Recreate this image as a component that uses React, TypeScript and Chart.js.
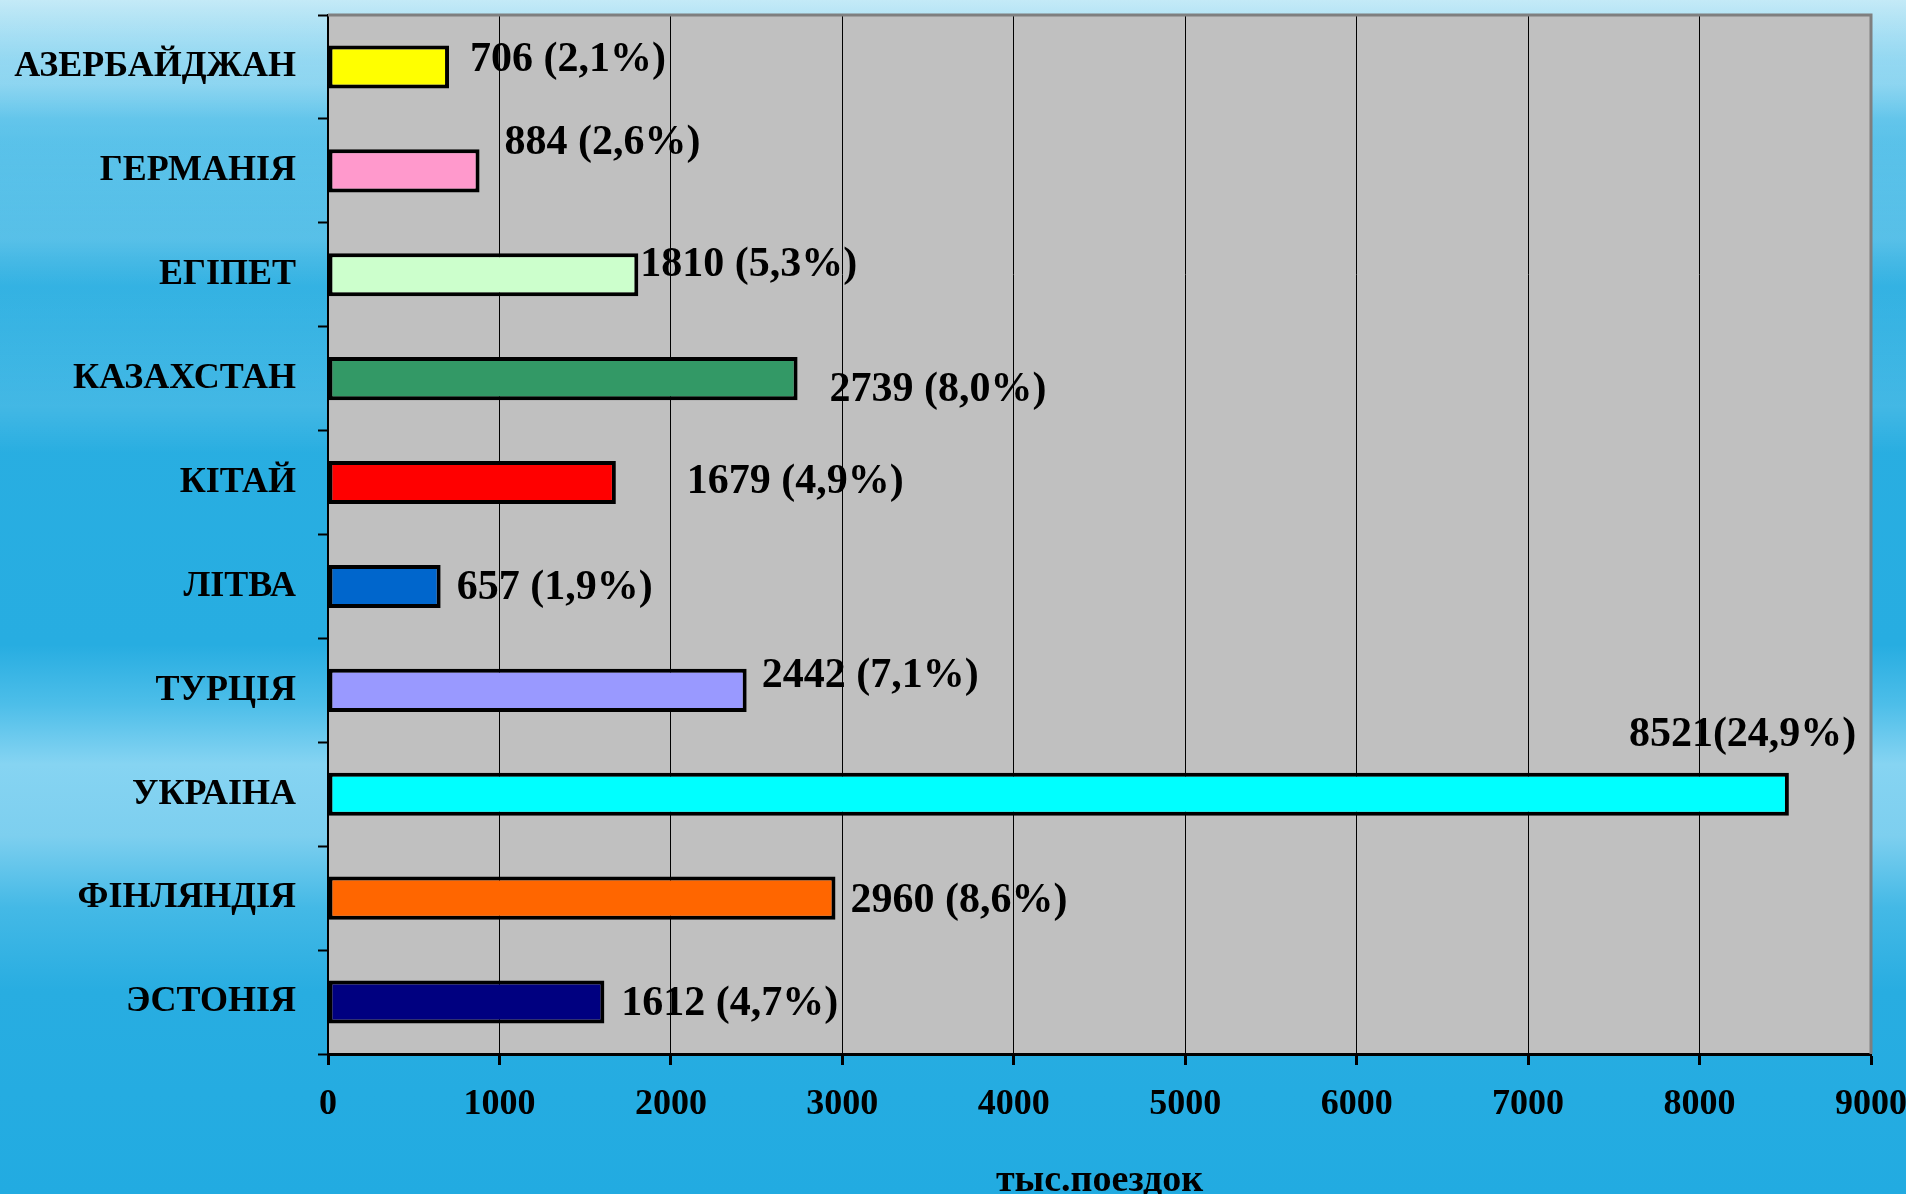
import React, { useEffect, useRef } from "react";
import { Chart, registerables } from "chart.js";

Chart.register(...registerables);

// ---- data ----
const categories = [
  "АЗЕРБАЙДЖАН",
  "ГЕРМАНІЯ",
  "ЕГІПЕТ",
  "КАЗАХСТАН",
  "КІТАЙ",
  "ЛІТВА",
  "ТУРЦІЯ",
  "УКРАІНА",
  "ФІНЛЯНДІЯ",
  "ЭСТОНІЯ",
];
const trips = [706, 884, 1810, 2739, 1679, 657, 2442, 8521, 2960, 1612];
const shares = ["2,1", "2,6", "5,3", "8,0", "4,9", "1,9", "7,1", "24,9", "8,6", "4,7"];
const barColors = [
  "#FFFF00",
  "#FF99CC",
  "#CCFFCC",
  "#339966",
  "#FF0000",
  "#0066CC",
  "#9999FF",
  "#00FFFF",
  "#FF6600",
  "#000080",
];
const xMin = 0;
const xMax = 9000;
const xStep = 1000;
const axisTitle = "тыс.поездок";
const labelSeparators = [" ", " ", " ", " ", " ", " ", " ", "", " ", " "];

// ---- style (label placement relative to bar end / bar centre, px) ----
const labelOffsets: [number, number][] = [
  [21, -7],
  [25, -28],
  [2, -10],
  [32, 12],
  [71, 0],
  [16, 2],
  [15, -14],
  [-160, -59],
  [15, 3],
  [17, 2],
];

const FONT = '"Liberation Serif", "Times New Roman", serif';
const W = 1906;
const H = 1194;

const plotBgPlugin = {
  id: "plotBg",
  beforeDraw(chart: any) {
    const { ctx, chartArea } = chart;
    ctx.save();
    ctx.fillStyle = "#C0C0C0";
    ctx.fillRect(chartArea.left, chartArea.top, chartArea.right - chartArea.left, chartArea.bottom - chartArea.top);
    ctx.restore();
  },
  afterDraw(chart: any) {
    const { ctx, chartArea } = chart;
    ctx.save();
    ctx.strokeStyle = "#7F7F7F";
    ctx.lineWidth = 3;
    ctx.beginPath();
    ctx.moveTo(chartArea.left, chartArea.top);
    ctx.lineTo(chartArea.right, chartArea.top);
    ctx.lineTo(chartArea.right, chartArea.bottom);
    ctx.stroke();
    ctx.restore();
  },
};

const dataLabelPlugin = {
  id: "dataLabels",
  afterDatasetsDraw(chart: any) {
    const { ctx } = chart;
    const meta = chart.getDatasetMeta(0);
    ctx.save();
    ctx.font = `bold 42px ${FONT}`;
    ctx.fillStyle = "#000";
    ctx.textAlign = "left";
    ctx.textBaseline = "middle";
    meta.data.forEach((bar: any, i: number) => {
      const [dx, dy] = labelOffsets[i];
      const text = `${trips[i]}${labelSeparators[i]}(${shares[i]}%)`;
      ctx.fillText(text, bar.x + dx, bar.y + dy);
    });
    ctx.restore();
  },
};

const axisTitlePlugin = {
  id: "axisTitle",
  afterDraw(chart: any) {
    const { ctx, chartArea } = chart;
    ctx.save();
    ctx.font = `bold 38px ${FONT}`;
    ctx.fillStyle = "#000";
    ctx.textAlign = "center";
    ctx.textBaseline = "alphabetic";
    ctx.fillText(axisTitle, (chartArea.left + chartArea.right) / 2, 1191);
    ctx.restore();
  },
};

export default function App() {
  const canvasRef = useRef<HTMLCanvasElement | null>(null);

  useEffect(() => {
    document.body.style.margin = "0";
    const canvas = canvasRef.current;
    if (!canvas) return;
    const chart = new Chart(canvas, {
      type: "bar",
      data: {
        labels: categories,
        datasets: [
          {
            data: trips,
            backgroundColor: barColors,
            borderColor: "#000",
            borderWidth: 4,
            borderSkipped: false,
            barPercentage: 0.415,
            categoryPercentage: 1,
          },
        ],
      },
      options: {
        indexAxis: "y",
        animation: false,
        responsive: false,
        devicePixelRatio: 1,
        layout: { padding: { left: 0, top: 15, right: 35, bottom: 0 } },
        plugins: {
          legend: { display: false },
          tooltip: { enabled: false },
          title: { display: false },
        },
        scales: {
          x: {
            type: "linear",
            min: xMin,
            max: xMax,
            afterFit(scale: any) {
              scale.height = H - 1054;
              scale.paddingLeft = 0;
              scale.paddingRight = 0;
            },
            ticks: {
              stepSize: xStep,
              color: "#000",
              padding: 18,
              font: { family: FONT, size: 36, weight: "bold" },
              callback: (v: any) => String(v),
            },
            grid: {
              color: "#000",
              lineWidth: 1,
              tickColor: "#000",
              tickWidth: 3,
              tickLength: 11,
            },
            border: { color: "#000", width: 3 },
          },
          y: {
            type: "category",
            afterFit(scale: any) {
              scale.width = 328;
              scale.paddingTop = 0;
              scale.paddingBottom = 0;
            },
            ticks: {
              color: "#000",
              padding: 22,
              font: { family: FONT, size: 36, weight: "bold" },
            },
            grid: {
              drawOnChartArea: false,
              drawTicks: true,
              tickLength: 10,
              tickColor: "#000",
              tickWidth: 2,
              color: "#000",
            },
            border: { color: "#000", width: 2 },
          },
        },
      },
      plugins: [plotBgPlugin, dataLabelPlugin, axisTitlePlugin],
    } as any);
    return () => chart.destroy();
  }, []);

  const background = [
    "linear-gradient(180deg, rgba(255,255,255,0) 0%, rgba(255,255,255,0.16) 7%, rgba(255,255,255,0) 10%, rgba(255,255,255,0.14) 20%, rgba(255,255,255,0) 24%, rgba(255,255,255,0.12) 34%, rgba(255,255,255,0) 38%)",
    "linear-gradient(180deg, #c4eaf7 0%, #86d3f0 5%, #55c0e9 12%, #36b3e3 22%, #29aee1 34%, #27ade1 54%, #4dbee9 59%, #86d4f2 64%, #7dcfef 70%, #44b9e6 76%, #28ade1 83%, #22abe1 100%)",
  ].join(", ");

  return (
    <div style={{ width: W, height: H, background, position: "relative", overflow: "hidden" }}>
      <canvas ref={canvasRef} width={W} height={H} style={{ display: "block", width: W, height: H }} />
    </div>
  );
}
